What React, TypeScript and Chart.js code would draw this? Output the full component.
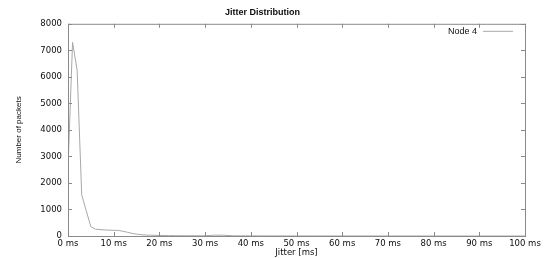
import React, { useEffect, useRef } from "react";
import { Chart, registerables } from "chart.js";

Chart.register(...registerables);

const jitterMs = [0, 1, 2, 3, 4, 5, 6, 7, 8, 9, 10, 11, 12, 13, 14, 15, 16, 17, 18, 19, 20, 22, 24, 26, 28, 30, 32, 34, 36, 38, 40, 45, 50, 60, 70, 80, 90, 100];
const packets = [2600, 7300, 6250, 1550, 950, 350, 260, 240, 230, 220, 215, 210, 180, 140, 100, 70, 50, 35, 30, 25, 20, 15, 12, 10, 10, 8, 30, 30, 10, 6, 5, 3, 2, 1, 1, 0, 0, 0];
const seriesLabel = "Node 4";
const chartTitle = "Jitter Distribution";
const xTitle = "Jitter [ms]";
const yTitle = "Number of packets";

const AXIS = "#8a8a8a";
const LINE = "#a8a8a8";
const TEXT = "#0d0d0d";

const frame = {
  id: "frame",
  afterDatasetsDraw(chart: any) {
    const { ctx, chartArea: a, scales } = chart;
    ctx.save();
    ctx.strokeStyle = AXIS;
    ctx.lineWidth = 1;
    ctx.strokeRect(a.left + 0.5, a.top + 0.5, a.right - a.left, a.bottom - a.top);
    ctx.beginPath();
    const tl = 4;
    scales.x.ticks.forEach((t: any) => {
      const px = Math.round(scales.x.getPixelForValue(t.value)) + 0.5;
      ctx.moveTo(px, a.bottom);
      ctx.lineTo(px, a.bottom - tl);
      ctx.moveTo(px, a.top);
      ctx.lineTo(px, a.top + tl);
    });
    scales.y.ticks.forEach((t: any) => {
      const py = Math.round(scales.y.getPixelForValue(t.value)) + 0.5;
      ctx.moveTo(a.left, py);
      ctx.lineTo(a.left + tl, py);
      ctx.moveTo(a.right, py);
      ctx.lineTo(a.right - tl, py);
    });
    ctx.stroke();
    const ds = chart.data.datasets[0];
    ctx.font = "9px 'Liberation Sans'";
    ctx.fillStyle = TEXT;
    ctx.textAlign = "right";
    ctx.textBaseline = "middle";
    const ly = a.top + 7.5;
    const lineEnd = a.right - 12;
    const lineStart = lineEnd - 30;
    ctx.fillText(ds.label, lineStart - 6, ly);
    ctx.beginPath();
    ctx.strokeStyle = ds.borderColor;
    ctx.moveTo(lineStart, ly);
    ctx.lineTo(lineEnd, ly);
    ctx.stroke();
    ctx.restore();
  },
};

export default function App() {
  const ref = useRef<HTMLCanvasElement>(null);
  useEffect(() => {
    const chart = new Chart(ref.current!, {
      type: "line",
      data: {
        datasets: [
          {
            label: seriesLabel,
            data: jitterMs.map((x, i) => ({ x, y: packets[i] })),
            borderColor: LINE,
            borderWidth: 1,
            pointRadius: 0,
            tension: 0,
            fill: false,
          },
        ],
      },
      options: {
        animation: false,
        responsive: false,
        layout: { padding: { top: 0, right: 23, bottom: 0, left: 0 } },
        plugins: {
          legend: { display: false },
          tooltip: { enabled: false },
          title: {
            display: true,
            text: chartTitle,
            color: TEXT,
            font: { family: "'Liberation Sans'", size: 9, weight: "bold" },
            padding: { top: 7, bottom: 6 },
          },
        },
        scales: {
          x: {
            type: "linear",
            min: 0,
            max: 100,
            border: { display: false },
            grid: { display: false, drawTicks: false },
            ticks: {
              stepSize: 10,
              padding: 3,
              maxRotation: 0,
              color: TEXT,
              font: { family: "'DejaVu Sans'", size: 8.5 },
              callback: (v: any) => v + " ms",
            },
            title: {
              display: true,
              text: xTitle,
              color: TEXT,
              padding: { top: 0, bottom: 0 },
              font: { family: "'DejaVu Sans'", size: 8.5 },
            },
            afterFit: (s: any) => {
              s.height = 22;
            },
          },
          y: {
            min: 0,
            max: 8000,
            border: { display: false },
            grid: { display: false, drawTicks: false },
            ticks: {
              stepSize: 1000,
              padding: 6,
              color: TEXT,
              font: { family: "'DejaVu Sans'", size: 8.5 },
              callback: (v: any) => String(v),
            },
            title: {
              display: true,
              text: yTitle,
              color: TEXT,
              padding: { top: 14, bottom: 0 },
              font: { family: "'Liberation Sans'", size: 8 },
            },
            afterFit: (s: any) => {
              s.width = 68;
            },
          },
        },
      },
      plugins: [frame],
    });
    return () => chart.destroy();
  }, []);
  return (
    <div style={{ position: "fixed", left: 0, top: 0, width: 548, height: 258, background: "#fff" }}>
      <canvas ref={ref} width={548} height={258} />
    </div>
  );
}
